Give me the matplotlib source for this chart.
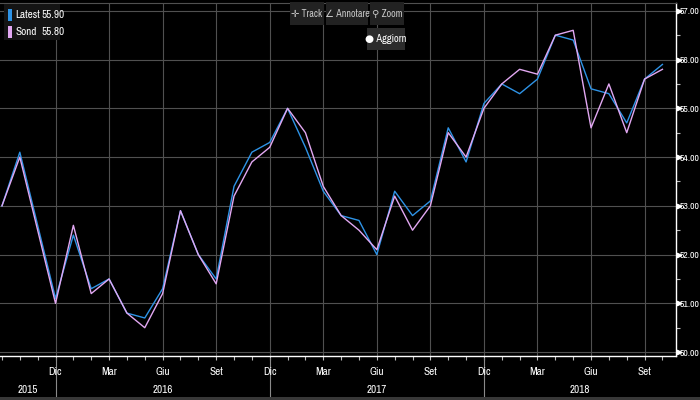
import matplotlib
matplotlib.use('Agg')
import matplotlib.pyplot as plt
import matplotlib.transforms as mtransforms
from matplotlib.patches import Rectangle
import numpy as np

# ---- data ----
month_names = ['Gen', 'Feb', 'Mar', 'Apr', 'Mag', 'Giu', 'Lug', 'Ago', 'Set', 'Ott', 'Nov', 'Dic']
start_year, start_month = 2015, 9
latest = [53.0, 54.1, 52.6, 51.1, 52.4, 51.3, 51.5, 50.8, 50.7, 51.3,
          52.9, 52.0, 51.5, 53.4, 54.1, 54.3, 55.0, 54.2, 53.3, 52.8,
          52.7, 52.0, 53.3, 52.8, 53.1, 54.6, 53.9, 55.1, 55.5, 55.3,
          55.6, 56.5, 56.4, 55.4, 55.3, 54.7, 55.6, 55.9]
sond = [53.0, 54.0, 52.5, 51.0, 52.6, 51.2, 51.5, 50.8, 50.5, 51.2,
        52.9, 52.0, 51.4, 53.2, 53.9, 54.2, 55.0, 54.5, 53.4, 52.8,
        52.5, 52.1, 53.2, 52.5, 53.0, 54.5, 54.0, 55.0, 55.5, 55.8,
        55.7, 56.5, 56.6, 54.6, 55.5, 54.5, 55.6, 55.8]
label_months = ['Dic', 'Mar', 'Giu', 'Set']
y_major = [50, 51, 52, 53, 54, 55, 56, 57]
y_minor = [50.5, 51.5, 52.5, 53.5, 54.5, 55.5, 56.5]
legend_names = ['Latest', 'Sond']

n = len(latest)
dates = []
for i in range(n):
    m = start_month - 1 + i
    dates.append((start_year + m // 12, m % 12))
x = np.arange(n)

BG = '#000000'
BLUE = '#2e93e6'
PINK = '#e2a8f2'
GRID = '#505050'
FONT = ['Archivo Narrow', 'DejaVu Sans']
plt.rcParams['font.family'] = FONT

fig = plt.figure(figsize=(7, 4), dpi=100, facecolor=BG)
W, H = 700, 400

def fx(px):
    return px / W

def fy(py):
    return 1 - py / H

ax = fig.add_axes([0.0, fy(356), fx(676), fy(3) - fy(356)], facecolor=BG)

XMIN, XMAX = -0.11, 37.76
ax.set_xlim(XMIN, XMAX)
ax.set_ylim(49.92, 57.16)

# grid
major_idx = [i for i, (yr, mo) in enumerate(dates) if month_names[mo] in label_months and i > 0]
ax.set_xticks(major_idx)
ax.set_xticks(x, minor=True)
ax.set_xticklabels([])
ax.set_yticks(y_major)
ax.set_yticks(y_minor, minor=True)
for i in major_idx:
    ax.axvline(i, color=GRID, lw=0.8, zorder=1.5)
for v in y_major:
    ax.axhline(v, color=GRID, lw=0.8, zorder=1.5)

ax.plot(x, latest, color=BLUE, lw=1.0, zorder=3)
ax.plot(x, sond, color=PINK, lw=1.0, zorder=4)

# spines
ax.spines['left'].set_visible(False)
ax.spines['top'].set_color(GRID)
ax.spines['top'].set_linewidth(0.8)
ax.spines['right'].set_color('white')
ax.spines['bottom'].set_color('white')
ax.spines['right'].set_linewidth(1.0)
ax.spines['bottom'].set_linewidth(1.0)

# y axis on right
ax.yaxis.tick_right()
ax.set_yticklabels(['%.2f' % v for v in y_major])
ax.tick_params(axis='y', which='major', length=0, pad=2.5, labelcolor='white', labelsize=7)
ax.tick_params(axis='y', which='minor', length=3, color='#bbbbbb', width=0.8, direction='out')
tri = mtransforms.blended_transform_factory(ax.transAxes, ax.transData)
ax.plot([679 / 676] * len(y_major), y_major, ls='none', marker='>', ms=3.2,
        color='white', transform=tri, clip_on=False, zorder=5)

# x axis ticks (monthly)
ax.tick_params(axis='x', which='both', length=3, color='#bbbbbb', width=0.8, direction='out')

bt = mtransforms.blended_transform_factory(ax.transData, fig.transFigure)
for i in major_idx:
    ax.text(i, fy(372), month_names[dates[i][1]], transform=bt, ha='center', va='center',
            color='white', fontsize=8, clip_on=False)

# year row
dec_idx = [i for i, (yr, mo) in enumerate(dates) if mo == 11]
bounds = [XMIN] + dec_idx + [XMAX]
years = [dates[0][0]] + [dates[i][0] + 1 for i in dec_idx]
for k, yr in enumerate(years):
    c = (bounds[k] + bounds[k + 1]) / 2
    ax.text(c, fy(390), str(yr), transform=bt, ha='center', va='center',
            color='white', fontsize=8, clip_on=False)
for i in dec_idx:
    ax.plot([i, i], [fy(358), fy(397)], color='#8a8a8a', lw=0.8, transform=bt, clip_on=False)

# bottom band
fig.patches.append(Rectangle((0, 0), 1, 3 / H, transform=fig.transFigure,
                             facecolor='#383838', edgecolor='none'))

# legend box
fig.patches.append(Rectangle((fx(4), fy(40)), fx(56), fy(4) - fy(40),
                             transform=fig.transFigure, facecolor='#141414',
                             edgecolor='none', zorder=6))
legend_vals = [latest[-1], sond[-1]]
for k, (name, col, val) in enumerate(zip(legend_names, [BLUE, PINK], legend_vals)):
    yc = 15 + k * 17
    fig.patches.append(Rectangle((fx(8), fy(yc + 6)), fx(4), fy(yc - 6) - fy(yc + 6),
                                 transform=fig.transFigure, facecolor=col,
                                 edgecolor='none', zorder=7))
    fig.text(fx(15), fy(yc), name, color='white', fontsize=8, va='center', ha='left', zorder=8)
    fig.text(fx(41), fy(yc), '%.2f' % val, color='white', fontsize=8, va='center', ha='left', zorder=8)

# toolbar buttons
buttons = [(290, 324, '✛ Track'), (326, 368, '∠ Annotare'), (370, 404, '⚲ Zoom')]
for x0, x1, lab in buttons:
    fig.patches.append(Rectangle((fx(x0), fy(25)), fx(x1 - x0), fy(2) - fy(25),
                                 transform=fig.transFigure, facecolor='#222222',
                                 edgecolor='none', zorder=6))
    fig.text(fx((x0 + x1) / 2), fy(14), lab, color='#c8c8c8', fontsize=7.2,
             ha='center', va='center', zorder=8)
fig.patches.append(Rectangle((fx(367), fy(50)), fx(38), fy(28) - fy(50),
                             transform=fig.transFigure, facecolor='#2c2c2c',
                             edgecolor='none', zorder=6))
fig.text(fx(386), fy(39), '● Aggiorn', color='white', fontsize=7.5,
         ha='center', va='center', zorder=8)

fig.savefig('out.png', dpi=100, facecolor=BG)
